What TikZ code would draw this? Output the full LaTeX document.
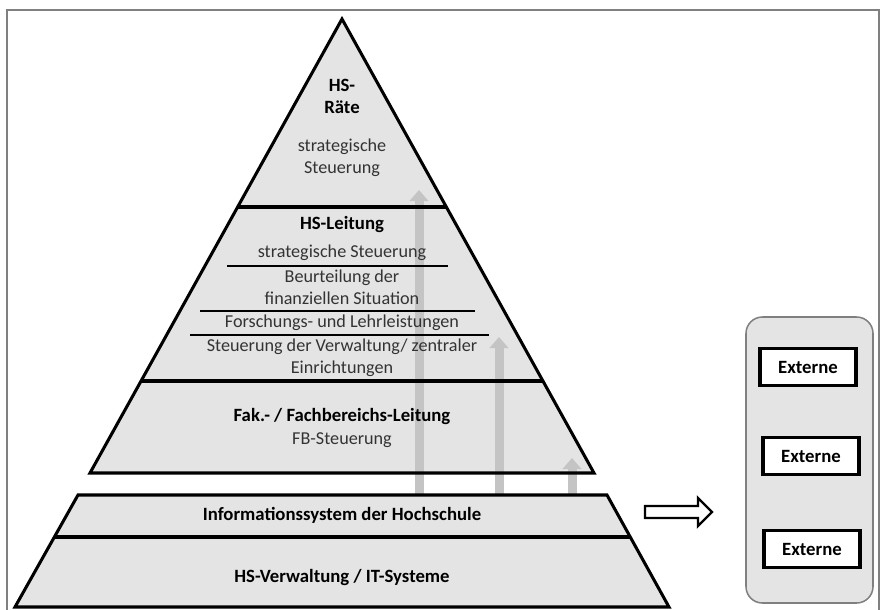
\documentclass[tikz,border=0pt]{standalone}
\usepackage{fontspec}
\setmainfont{Carlito}
\usetikzlibrary{calc,arrows.meta}
\definecolor{pyrgray}{HTML}{E4E4E4}
\definecolor{arrgray}{HTML}{C4C4C4}
\definecolor{framegray}{HTML}{808080}

\tikzset{
  lbl/.style={align=center, font=\fontsize{15.5}{18.8}\selectfont, text=black!80, inner sep=0pt},
  blbl/.style={lbl, font=\bfseries\fontsize{16}{18.8}\selectfont, text=black},
  pyredge/.style={line width=2.6pt, line join=miter},
  subline/.style={line width=1.3pt},
  upflow/.style={arrgray, line width=0.27cm, -{Triangle[width=0.55cm,length=0.33cm]}},
  extbox/.style={draw, line width=2.6pt, fill=white, minimum width=2.88cm, minimum height=1.11cm,
    font=\bfseries\fontsize{16}{18}\selectfont}
}

\begin{document}
\begin{tikzpicture}[x=0.03cm,y=-0.03cm]
	\useasboundingbox (0,0) rectangle (883,610);
	%\draw[help lines] (0,0) grid[step=50] (883,610);
	\draw[framegray, line width=1pt] (7,615) |- (879,10) -- (879,615);
	% pyramid points
	\coordinate (apex) at (342,19);
	\coordinate (bl) at (90,473);
	\coordinate (br) at (594,473);
	\coordinate (il) at (78,495);
	\coordinate (ir) at (607,495);
	\coordinate (vl) at (15,607);
	\coordinate (vr) at (669,607);
	\fill[pyrgray] (apex) -- (bl) -- (br) -- cycle;
	\fill[pyrgray] (il) -- (vl) -- (vr) -- (ir) -- cycle;
	\fill[pyrgray, draw=framegray, line width=1.3pt, rounded corners=14] (746,317) rectangle (873,603);
	% flows
	\coordinate (f1) at (419,495);
	\coordinate (f2) at (499,495);
	\coordinate (f3) at (572,495);
	\coordinate (t1) at (419,190);
	\coordinate (t2) at (499,337);
	\coordinate (t3) at (572,458);
	\draw[upflow] (f1) -- (t1);
	\draw[upflow] (f2) -- (t2);
	\draw[upflow] (f3) -- (t3);
	\draw[pyredge] (apex) -- (bl) -- (br) -- cycle;
	\draw[pyredge] (il) -- (vl) -- (vr) -- (ir) -- cycle;
	\draw[pyredge] ($(apex)!{188/454}!(bl)$) -- ($(apex)!{188/454}!(br)$);
	\draw[pyredge] ($(apex)!{362/454}!(bl)$) -- ($(apex)!{362/454}!(br)$);
	\draw[pyredge] ($(il)!{42/112}!(vl)$) -- ($(ir)!{42/112}!(vr)$);
	\draw[subline] (227,266) -- (448,266);
	\draw[subline] (200,311) -- (475,311);
	\draw[subline] (190,335) -- (489,335);
	\node[blbl] (raete) at (342,96) {HS-\\Räte};
	\node[lbl] (raetesteuer) at (342,158) {strategische\\Steuerung};
	\node[blbl] (leitung) at (342,225) {HS-Leitung};
	\node[lbl] (strat) at (342,253) {strategische Steuerung};
	\node[lbl] (finanz) at (342,287) {Beurteilung der\\finanziellen Situation};
	\node[lbl] (forsch) at (342,323) {Forschungs- und Lehrleistungen};
	\node[lbl] (verw) at (342,358) {Steuerung der Verwaltung/ zentraler\\Einrichtungen};
	\node[blbl] (fak) at (342,417) {Fak.- / Fachbereichs-Leitung};
	\node[lbl] (fb) at (342,440) {FB-Steuerung};
	\node[blbl] (info) at (342,515) {Informationssystem der Hochschule};
	\node[blbl] (hsverw) at (342,578) {HS-Verwaltung / IT-Systeme};
	% externe
	\node[extbox] (ext1) at (808,367) {Externe};
	\node[extbox] (ext2) at (811,456) {Externe};
	\node[extbox] (ext3) at (812,549) {Externe};
	\draw[line width=2pt, fill=white!90!pyrgray, line join=miter] (645,506) -- (698,506) -- (698,498) -- (712,512)
		-- (698,526) -- (698,518) -- (645,518) -- cycle;
\end{tikzpicture}
\end{document}
